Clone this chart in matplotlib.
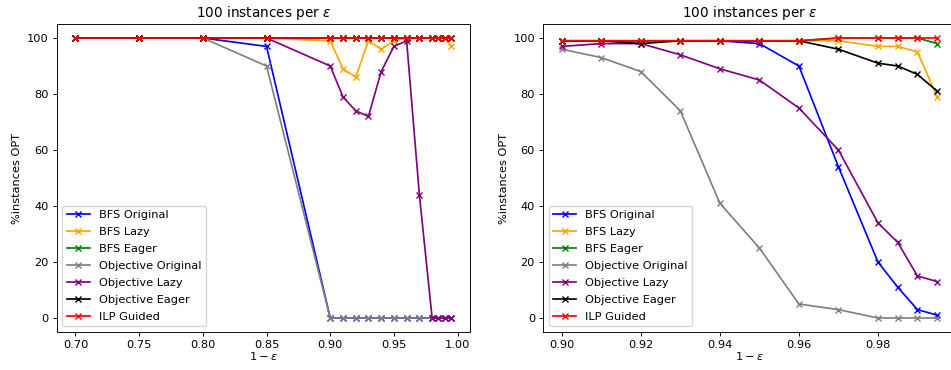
import matplotlib
matplotlib.use("Agg")
import matplotlib.pyplot as plt

labels = ["BFS Original", "BFS Lazy", "BFS Eager", "Objective Original",
          "Objective Lazy", "Objective Eager", "ILP Guided"]
colors = ["blue", "orange", "green", "gray", "purple", "black", "red"]

x_left = [0.70, 0.75, 0.80, 0.85, 0.90, 0.91, 0.92, 0.93, 0.94, 0.95, 0.96,
          0.97, 0.98, 0.985, 0.99, 0.995]
bfs_orig_l = [100, 100, 100, 97, 0, 0, 0, 0, 0, 0, 0, 0, 0, 0, 0, 0]
bfs_lazy_l = [100, 100, 100, 100, 99, 89, 86, 99, 96, 99, 100, 100, 100, 100, 100, 97]
bfs_eager_l = [100] * 16
obj_orig_l = [100, 100, 100, 90, 0, 0, 0, 0, 0, 0, 0, 0, 0, 0, 0, 0]
obj_lazy_l = [100, 100, 100, 100, 90, 79, 74, 72, 88, 97, 99, 44, 0, 0, 0, 0]
obj_eager_l = [100] * 16
ilp_l = [100] * 16

x_right = [0.90, 0.91, 0.92, 0.93, 0.94, 0.95, 0.96, 0.97, 0.98, 0.985, 0.99, 0.995]
bfs_orig_r = [99, 99, 99, 99, 99, 98, 90, 54, 20, 11, 3, 1]
bfs_lazy_r = [99, 99, 99, 99, 99, 99, 99, 99, 97, 97, 95, 79]
bfs_eager_r = [99, 99, 99, 99, 99, 99, 99, 100, 100, 100, 100, 98]
obj_orig_r = [96, 93, 88, 74, 41, 25, 5, 3, 0, 0, 0, 0]
obj_lazy_r = [97, 98, 98, 94, 89, 85, 75, 60, 34, 27, 15, 13]
obj_eager_r = [99, 99, 98, 99, 99, 99, 99, 96, 91, 90, 87, 81]
ilp_r = [99, 99, 99, 99, 99, 99, 99, 100, 100, 100, 100, 100]

left_series = [bfs_orig_l, bfs_lazy_l, bfs_eager_l, obj_orig_l, obj_lazy_l, obj_eager_l, ilp_l]
right_series = [bfs_orig_r, bfs_lazy_r, bfs_eager_r, obj_orig_r, obj_lazy_r, obj_eager_r, ilp_r]

s = 0.82
plt.rcParams.update({
    "font.size": 10 * s,
    "lines.linewidth": 1.5 * s,
    "lines.markersize": 6 * s,
    "axes.linewidth": 0.8 * s,
    "axes.labelpad": 4 * s,
    "axes.titlepad": 6 * s,
    "xtick.major.size": 3.5 * s,
    "ytick.major.size": 3.5 * s,
    "xtick.major.width": 0.8 * s,
    "ytick.major.width": 0.8 * s,
    "xtick.major.pad": 3.5 * s,
    "ytick.major.pad": 3.5 * s,
})

W, H = 951, 370
fig = plt.figure(figsize=(W / 100, H / 100), dpi=100)
ax1 = fig.add_axes([56.7 / W, 1 - 332 / H, (470 - 56.7) / W, (332 - 24) / H])
ax2 = fig.add_axes([543 / W, 1 - 332 / H, (956 - 543) / W, (332 - 24) / H])

for ax, xs, series in [(ax1, x_left, left_series), (ax2, x_right, right_series)]:
    for ys, lab, c in zip(series, labels, colors):
        ax.plot(xs, ys, marker="x", color=c, label=lab)
    ax.set_title(r"100 instances per $\epsilon$")
    ax.set_xlabel(r"$1-\epsilon$", labelpad=-0.3)
    ax.set_ylabel("%instances OPT")
    ax.legend(loc="lower left", labelspacing=0.61)

fig.savefig("out.png", dpi=100)
